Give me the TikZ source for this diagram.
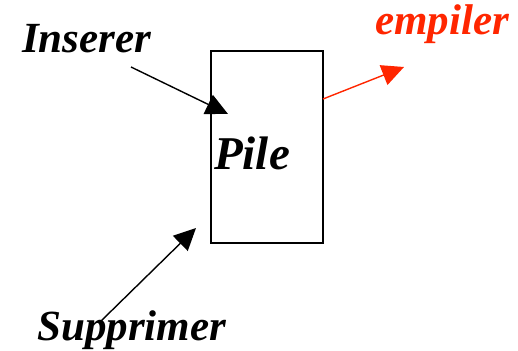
\documentclass[tikz,border=0pt]{standalone}
\usepackage{fontspec}
\setmainfont{Liberation Serif}
\usetikzlibrary{arrows.meta}
\definecolor{pushred}{RGB}{255,38,0}
\begin{document}
\begin{tikzpicture}[x=1pt,y=1pt,
  lbl/.style={inner sep=0pt,anchor=base west,font=\fontsize{43}{43}\selectfont\bfseries\itshape},
  link/.style={line width=1.4pt,-{Triangle[length=22pt,width=21pt]}}]
\useasboundingbox (0,0) rectangle (518,350);
% the stack
\node[draw,line width=1.4pt,minimum width=112pt,minimum height=192pt,inner sep=0pt] (pile) at (267,203) {};
\node[lbl,font=\fontsize{47}{47}\selectfont\bfseries\itshape] (pilelbl) at (214,180) {Pile};
% operation labels
\node[lbl] (ins) at (22,297) {Inserer};
\node[lbl] (sup) at (37,10) {Supprimer};
\node[lbl,text=pushred] (emp) at (375,315) {empiler};
% arrow ends
\coordinate (insfrom) at (131,283);
\coordinate (insto) at (228,236);
\coordinate (supfrom) at (100,28);
\coordinate (supto) at (196,122);
\coordinate (empfrom) at (323,251);
\coordinate (empto) at (404,283);
\draw[link] (insfrom) -- (insto);
\draw[link] (supfrom) -- (supto);
\draw[link,pushred] (empfrom) -- (empto);
\end{tikzpicture}
\end{document}
